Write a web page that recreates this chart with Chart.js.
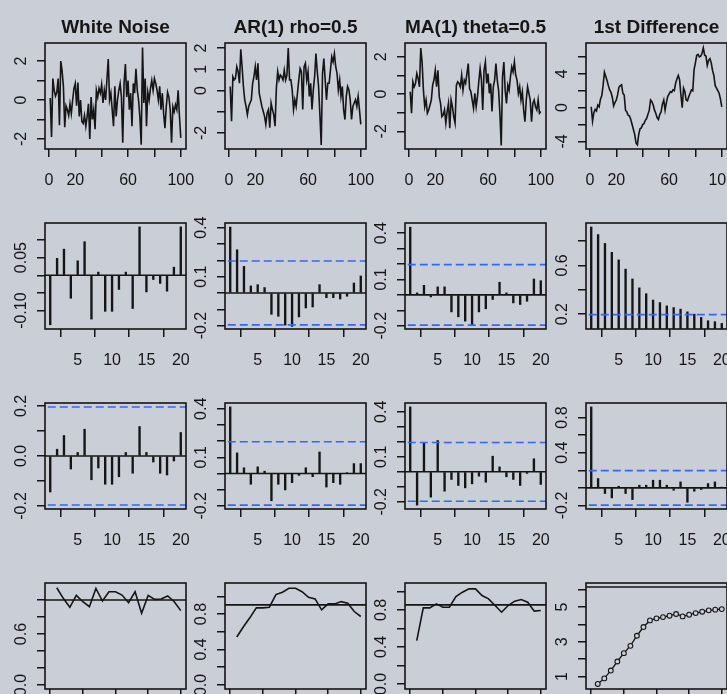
<!DOCTYPE html>
<html><head><meta charset="utf-8">
<script src="https://cdn.jsdelivr.net/npm/chart.js@4.4.1/dist/chart.umd.min.js"></script>
<style>
html,body{margin:0;padding:0;background:#c9ced7;width:727px;height:694px;overflow:hidden;position:relative}
canvas{position:absolute}
</style></head><body>
<script>
// ---------------- data ----------------
const titles = ['White Noise', 'AR(1) rho=0.5', 'MA(1) theta=0.5', '1st Difference'];
const timeIdx = Array.from({length: 100}, (_, i) => i + 1);
const lags = Array.from({length: 20}, (_, i) => i + 1);

const whiteNoise = [0.1,-1.9,1.1,0.5,0.2,0.4,1.1,-1.3,2.0,1.5,0.7,-1.4,-0.3,-0.5,-0.8,-0.2,-0.7,0.0,0.6,0.85,
 -0.3,0.9,-0.85,0.0,-1.1,-1.2,-0.8,-1.35,-0.85,-0.2,-2.0,0.15,-1.0,-0.5,-1.5,0.5,0.15,0.6,0.35,0.8,
 -0.15,0.5,0.0,1.05,2.1,0.0,0.35,-0.5,-1.35,0.7,-0.85,0.0,0.5,0.85,0.15,-2.2,0.85,1.85,0.15,1.0,
 -0.5,0.35,-1.35,0.85,0.35,1.6,0.5,0.0,-0.9,-2.3,2.7,-0.15,1.1,-1.35,0.4,0.0,0.6,1.0,0.5,1.1,
 0.85,0.5,0.0,0.7,-0.5,0.35,-0.7,-1.45,-0.35,0.4,0.15,-0.5,-2.2,-0.35,-0.6,-0.25,-0.5,0.5,-0.85,-1.95];
const ar1Series = [0.19,-1.45,0.65,0.5,0.58,1.12,0.89,0.34,1.94,1.12,0.19,-0.44,-0.75,-1.14,-0.75,-0.59,-0.44,0.34,0.65,1.12,
 0.5,1.28,-0.12,-0.44,-0.75,-0.98,-1.21,-1.6,-1.06,-0.9,-1.76,-0.59,-0.9,-1.14,-1.68,0.11,0.89,0.5,0.73,0.65,
 0.5,0.96,0.5,0.73,2.0,0.5,0.5,0.03,-0.9,-0.44,-0.75,-0.12,0.5,1.04,0.89,-0.9,1.12,1.28,0.5,0.89,
 -0.28,0.34,-0.9,0.03,0.65,1.74,0.89,0.19,-1.14,-2.57,0.81,1.51,0.5,-0.44,0.34,0.34,0.96,1.59,1.35,1.74,
 1.12,0.81,0.03,0.5,-0.28,0.19,-0.9,-1.37,-0.28,0.19,0.03,-0.44,-1.37,-0.75,-0.59,-0.44,-0.75,-0.28,-0.9,-1.6];
const ma1Series = [0.12,-1.03,0.66,0.39,0.57,1.1,0.84,0.39,2.47,1.72,0.21,-0.68,-0.32,-1.03,-0.85,-0.59,-0.32,0.48,0.75,1.28,
 0.39,1.28,-0.14,-0.5,-1.21,-1.12,-0.85,-1.56,-0.94,-0.5,-1.83,-0.32,-0.68,-1.21,-1.56,0.48,0.66,0.57,0.39,1.01,
 0.21,0.75,0.57,1.1,1.64,0.3,0.12,-0.32,-0.76,0.04,-0.68,-0.14,0.66,1.37,0.75,-0.85,1.28,1.72,0.57,1.1,
 0.04,0.57,-0.94,0.39,0.75,1.64,0.75,0.21,-1.03,-2.76,0.92,1.72,0.21,-0.5,0.48,0.21,0.92,1.46,1.19,1.72,
 1.01,0.75,0.04,0.39,-0.32,0.12,-0.85,-1.48,-0.32,0.39,0.04,-0.32,-1.48,-0.5,-0.32,-0.68,-0.85,-0.32,-1.03,-0.94];
const diffSeries = [0.1,-1.6,-0.6,-0.2,-0.4,0.3,0.1,1.0,1.4,2.6,4.2,3.7,3.2,2.6,2.1,1.8,1.2,0.2,0.6,0.9,
 1.5,2.4,2.6,2.7,1.7,1.5,-0.3,-0.5,-0.9,-1.0,-1.4,-2.0,-2.6,-3.2,-4.2,-4.4,-3.2,-2.5,-2.4,-2.0,
 -1.9,-1.5,-1.3,-0.8,-0.3,0.9,0.7,0.3,-0.3,-0.7,-1.2,-1.4,-0.8,-0.5,0.4,0.9,-0.3,0.6,1.3,1.6,
 1.9,1.8,2.1,2.0,2.9,3.4,3.8,3.3,1.5,0.0,2.3,1.9,0.9,0.8,1.3,1.7,2.1,2.0,4.5,5.3,
 6.2,6.3,6.0,6.1,6.4,7.06,6.2,6.1,5.0,5.6,5.8,5.3,4.4,3.8,2.6,2.3,2.0,1.7,1.0,0.1];

const acfWN   = [-0.140,0.048,0.074,-0.065,0.041,0.095,-0.124,0.009,-0.102,-0.102,-0.040,0.009,-0.094,0.137,-0.047,-0.012,-0.023,-0.045,0.023,0.137];
const acfAR   = [0.404,0.265,0.163,0.043,0.051,0.033,-0.131,-0.143,-0.197,-0.205,-0.147,-0.092,-0.086,0.051,-0.029,-0.029,-0.037,-0.020,0.061,0.104];
const acfMA   = [0.439,0.013,0.062,-0.013,0.052,0.052,-0.110,-0.142,-0.170,-0.198,-0.110,-0.090,-0.030,0.082,0.013,-0.052,-0.062,-0.041,0.103,0.092];
const acfDiff = [0.916,0.854,0.781,0.708,0.646,0.570,0.489,0.416,0.368,0.316,0.295,0.268,0.254,0.241,0.219,0.200,0.173,0.146,0.138,0.124];

const pacfWN   = [-0.144,0.027,0.082,-0.052,0.014,0.107,-0.095,-0.048,-0.113,-0.113,-0.083,0.014,-0.069,0.118,0.014,-0.024,-0.069,-0.076,-0.020,0.094];
const pacfAR   = [0.412,0.127,0.035,-0.067,0.041,0.014,-0.169,-0.067,-0.102,-0.057,-0.012,0.035,-0.020,0.133,-0.084,-0.057,-0.067,0.003,0.061,0.061];
const pacfMA   = [0.433,-0.222,0.193,-0.169,0.209,-0.129,-0.051,-0.091,-0.107,-0.080,-0.029,-0.069,0.104,0.033,-0.033,-0.051,-0.091,-0.011,0.087,-0.084];
const pacfDiff = [0.920,0.106,-0.064,-0.114,0.019,-0.064,-0.133,0.030,0.030,0.087,0.087,0.030,-0.027,0.068,-0.163,-0.038,-0.019,0.049,0.068,0.005];

const row4WN   = [1.144,1.020,0.914,1.054,0.980,0.922,1.136,0.988,1.097,1.097,1.058,0.969,1.097,0.844,1.054,1.008,1.012,1.047,0.980,0.875];
const row4AR   = [0.541,0.653,0.757,0.869,0.869,0.877,1.019,1.045,1.090,1.090,1.052,0.989,0.970,0.847,0.914,0.914,0.940,0.922,0.828,0.772];
const row4MA   = [0.468,0.822,0.822,0.865,0.829,0.829,0.944,0.991,1.027,1.027,0.955,0.919,0.847,0.775,0.847,0.894,0.912,0.883,0.786,0.793];
const row4Diff = [0.58,0.90,1.35,1.87,2.35,2.77,3.35,3.85,4.23,4.35,4.42,4.50,4.60,4.46,4.56,4.65,4.73,4.81,4.85,4.88];
const row4Ref  = [1.0, 0.903, 0.854, 6.15];

const ciBound = 0.196;

const tsXTicks = [0, 20, 40, 60, 80, 100];
const tsXLabels = ['0', '20', '', '60', '', '100'];
const lagXTicks = [5, 10, 15, 20];
const lagXLabels = ['5', '10', '15', '20'];
const r4XTicks = [0, 5, 10, 15, 20];

// ---------------- drawing ----------------
const BG = '#c9ced7';
const INK = '#151515';
const BLUE = '#2f68ff';
const FONT = '"Liberation Sans", Arial, Helvetica, sans-serif';

const rAxes = {
  id: 'rAxes',
  afterDraw(chart, args, o) {
    const {ctx, chartArea: a, scales: {x, y}} = chart;
    ctx.save();
    ctx.strokeStyle = INK; ctx.lineWidth = 1.6;
    ctx.strokeRect(a.left, a.top, a.right - a.left, a.bottom - a.top);
    ctx.fillStyle = INK;
    ctx.font = '16px ' + FONT;
    ctx.textAlign = 'center'; ctx.textBaseline = 'alphabetic';
    (o.xLabels || []).forEach((lab, i) => {
      if (!lab) return;
      ctx.fillText(lab, x.getPixelForValue(o.xTicks[i]), a.bottom + 36);
    });
    (o.yLabels || []).forEach((lab, i) => {
      if (!lab) return;
      ctx.save();
      ctx.translate(a.left - 19.5, y.getPixelForValue(o.yTicks[i]));
      ctx.rotate(-Math.PI / 2);
      ctx.fillText(lab, 0, 0);
      ctx.restore();
    });
    if (o.title) {
      ctx.font = 'bold 19px ' + FONT;
      ctx.fillText(o.title, (a.left + a.right) / 2, a.top - 9.7);
    }
    ctx.restore();
  }
};

function hline(v, color, dash) {
  return {type: 'line', data: [{x: -50, y: v}, {x: 200, y: v}], borderColor: color,
    borderWidth: 1.6, borderDash: dash || [], pointRadius: 0, tension: 0};
}

function panel(col, row, cfg) {
  const c = document.createElement('canvas');
  const W = 202, H = 195, PADR = W - 186;
  c.width = W; c.height = H;
  c.style.left = [0, 180, 360, 541][col] + 'px';
  c.style.top = (180 * row) + 'px';
  document.body.appendChild(c);
  const gridCfg = {drawOnChartArea: false, drawTicks: true, tickLength: 8, color: INK, lineWidth: 1.5};
  new Chart(c, {
    type: 'line',
    data: {datasets: cfg.datasets},
    options: {
      responsive: false, animation: false, devicePixelRatio: 1,
      layout: {padding: {top: 43, left: 0, right: PADR, bottom: 0}},
      plugins: {
        legend: {display: false}, tooltip: {enabled: false},
        rAxes: {title: cfg.title, xTicks: cfg.xTicks, xLabels: cfg.xLabels, yTicks: cfg.yTicks, yLabels: cfg.yLabels}
      },
      scales: {
        x: {type: 'linear', min: cfg.xr[0], max: cfg.xr[1], offset: false,
            afterBuildTicks: s => { s.ticks = cfg.xTicks.map(v => ({value: v})); },
            afterFit: s => { s.height = H - 149; },
            ticks: {display: false}, grid: gridCfg, border: {display: false}},
        y: {type: 'linear', min: cfg.yr[0], max: cfg.yr[1],
            afterBuildTicks: s => { s.ticks = cfg.yTicks.map(v => ({value: v})); },
            afterFit: s => { s.width = 45; },
            ticks: {display: false}, grid: gridCfg, border: {display: false}}
      }
    },
    plugins: [rAxes]
  });
}

function seriesDS(xs, ys, extra) {
  return Object.assign({type: 'line', data: xs.map((v, i) => ({x: v, y: ys[i]})),
    borderColor: INK, borderWidth: 1.6, pointRadius: 0, tension: 0}, extra || {});
}
function spikeDS(ys) {
  return {type: 'bar', data: lags.map((v, i) => ({x: v, y: ys[i]})),
    backgroundColor: INK, borderWidth: 0, barThickness: 1.7, grouped: false};
}

// Row 1: series
const tsData = [whiteNoise, ar1Series, ma1Series, diffSeries];
const tsY = [[-2.52, 2.93], [-2.76, 2.24], [-2.95, 2.74], [-4.9, 7.65]];
const tsYTicks = [[-2,-1,0,1,2], [-2,-1,0,1,2], [-2,-1,0,1,2], [-4,-2,0,2,4,6]];
const tsYLabels = [['-2','','0','','2'], ['-2','','0','1','2'], ['-2','','0','','2'], ['-4','','0','','4','']];
for (let c = 0; c < 4; c++) {
  panel(c, 0, {title: titles[c], datasets: [seriesDS(timeIdx, tsData[c])],
    xr: [-2.96, 103.96], yr: tsY[c], xTicks: tsXTicks, xLabels: tsXLabels,
    yTicks: tsYTicks[c], yLabels: tsYLabels[c]});
}

// Row 2: ACF
const acfData = [acfWN, acfAR, acfMA, acfDiff];
const acfY = [[-0.152, 0.148], [-0.221, 0.429], [-0.221, 0.466], [0.078, 0.949]];
const acfYTicks = [[-0.1,-0.05,0,0.05,0.1], [-0.2,-0.1,0,0.1,0.2,0.3,0.4], [-0.2,-0.1,0,0.1,0.2,0.3,0.4], [0.2,0.4,0.6,0.8]];
const acfYLabels = [['-0.10','','','0.05',''], ['-0.2','','','0.1','','','0.4'], ['-0.2','','','0.1','','','0.4'], ['0.2','','0.6','']];
for (let c = 0; c < 4; c++) {
  panel(c, 1, {datasets: [hline(0, INK), hline(ciBound, BLUE, [8, 4]), hline(-ciBound, BLUE, [8, 4]), spikeDS(acfData[c])],
    xr: [0.24, 20.76], yr: acfY[c], xTicks: lagXTicks, xLabels: lagXLabels,
    yTicks: acfYTicks[c], yLabels: acfYLabels[c]});
}

// Row 3: PACF
const pacfData = [pacfWN, pacfAR, pacfMA, pacfDiff];
const pacfY = [[-0.212, 0.212], [-0.22, 0.436], [-0.248, 0.459], [-0.24, 0.965]];
const pacfYTicks = [[-0.2,-0.1,0,0.1,0.2], [-0.2,-0.1,0,0.1,0.2,0.3,0.4], [-0.2,-0.1,0,0.1,0.2,0.3,0.4], [-0.2,0,0.2,0.4,0.6,0.8]];
const pacfYLabels = [['-0.2','','0.0','','0.2'], ['-0.2','','','0.1','','','0.4'], ['-0.2','','','0.1','','','0.4'], ['-0.2','','','0.4','','0.8']];
for (let c = 0; c < 4; c++) {
  panel(c, 2, {datasets: [hline(0, INK), hline(ciBound, BLUE, [8, 4]), hline(-ciBound, BLUE, [8, 4]), spikeDS(pacfData[c])],
    xr: [0.24, 20.76], yr: pacfY[c], xTicks: lagXTicks, xLabels: lagXLabels,
    yTicks: pacfYTicks[c], yLabels: pacfYLabels[c]});
}

// Row 4
const r4Data = [row4WN, row4AR, row4MA, row4Diff];
const r4Y = [[-0.046, 1.2], [-0.046, 1.15], [-0.054, 1.09], [0.29, 6.38]];
const r4YTicks = [[0,0.2,0.4,0.6,0.8,1.0], [0,0.2,0.4,0.6,0.8,1.0], [0,0.2,0.4,0.6,0.8,1.0], [1,2,3,4,5,6]];
const r4YLabels = [['0.0','','','0.6','',''], ['0.0','','0.4','','0.8',''], ['0.0','','0.4','','0.8',''], ['1','','3','','5','']];
for (let c = 0; c < 4; c++) {
  const extra = c === 3 ? {pointRadius: 2.4, pointBorderWidth: 1.1, pointBorderColor: INK, pointBackgroundColor: BG, borderWidth: 1.3} : {};
  panel(c, 3, {datasets: [hline(row4Ref[c], INK), seriesDS(lags, r4Data[c], extra)],
    xr: [-0.8, 20.8], yr: r4Y[c], xTicks: r4XTicks, xLabels: [],
    yTicks: r4YTicks[c], yLabels: r4YLabels[c]});
}
</script>
</body></html>
